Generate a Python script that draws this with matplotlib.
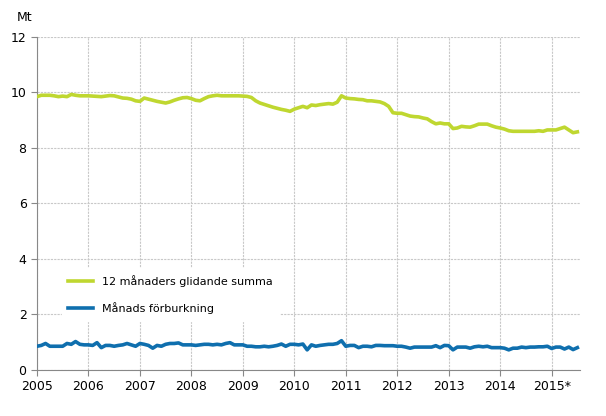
import numpy as np
import matplotlib
matplotlib.use("Agg")
import matplotlib.pyplot as plt

start_year = 2005
rolling_sum = [
 9.85,9.9,9.9,9.9,9.88,9.85,9.87,9.85,9.93,9.9,9.88,9.88,
 9.88,9.87,9.86,9.85,9.87,9.89,9.88,9.84,9.8,9.79,9.76,9.7,
 9.68,9.8,9.76,9.72,9.68,9.65,9.62,9.66,9.72,9.77,9.81,9.82,
 9.78,9.72,9.7,9.78,9.85,9.88,9.9,9.88,9.88,9.88,9.88,9.88,
 9.87,9.86,9.82,9.7,9.62,9.57,9.52,9.47,9.43,9.39,9.36,9.32,
 9.4,9.45,9.5,9.45,9.55,9.53,9.56,9.58,9.6,9.58,9.65,9.88,
 9.8,9.78,9.77,9.75,9.74,9.7,9.7,9.68,9.66,9.6,9.5,9.27,
 9.25,9.25,9.2,9.15,9.13,9.12,9.08,9.05,8.95,8.87,8.9,8.87,
 8.87,8.7,8.72,8.78,8.76,8.75,8.8,8.86,8.86,8.86,8.8,8.75,
 8.72,8.68,8.62,8.6,8.6,8.6,8.6,8.6,8.6,8.62,8.6,8.65,
 8.65,8.65,8.7,8.75,8.65,8.55,8.58]
monthly = [
 0.85,0.88,0.95,0.85,0.85,0.85,0.85,0.95,0.92,1.02,0.92,0.9,
 0.9,0.88,0.98,0.8,0.88,0.88,0.85,0.88,0.9,0.95,0.9,0.85,
 0.95,0.92,0.88,0.78,0.88,0.85,0.92,0.95,0.95,0.97,0.9,0.9,
 0.9,0.88,0.9,0.92,0.92,0.9,0.92,0.9,0.95,0.98,0.9,0.9,
 0.9,0.85,0.85,0.83,0.83,0.85,0.83,0.85,0.88,0.93,0.85,0.92,
 0.92,0.9,0.93,0.72,0.9,0.85,0.88,0.9,0.92,0.92,0.95,1.05,
 0.85,0.88,0.88,0.8,0.85,0.85,0.83,0.88,0.88,0.87,0.87,0.87,
 0.85,0.85,0.82,0.78,0.82,0.82,0.82,0.82,0.82,0.87,0.8,0.88,
 0.87,0.72,0.82,0.82,0.82,0.78,0.83,0.85,0.83,0.85,0.8,0.8,
 0.8,0.78,0.72,0.78,0.78,0.82,0.8,0.82,0.82,0.83,0.83,0.85,
 0.77,0.82,0.82,0.75,0.82,0.73,0.8]
year_labels = ["2005","2006","2007","2008","2009","2010","2011","2012","2013","2014","2015*"]
y_ticks = [0,2,4,6,8,10,12]

x = start_year + np.arange(len(rolling_sum)) / 12.0

fig = plt.figure(figsize=(6.06,4.16), dpi=100)
ax = fig.add_axes([0.061, 0.111, 0.896, 0.80])
ax.plot(x, rolling_sum, color="#bfd730", lw=2.6, label="12 månaders glidande summa", zorder=3)
ax.plot(x, monthly, color="#0f6fae", lw=2.6, label="Månads förburkning", zorder=3)
ax.set_xlim(2005, 2015.55)
ax.set_ylim(0, 12)
ax.set_xticks(np.arange(2005, 2016))
ax.set_xticklabels(year_labels, fontsize=9)
ax.set_yticks(y_ticks)
ax.set_yticklabels([str(v) for v in y_ticks], fontsize=9)
ax.grid(True, color="#c8c8c8", lw=0.8, ls=(0,(2,1)))
ax.set_axisbelow(True)
for s in ["top", "right"]:
    ax.spines[s].set_visible(False)
for s in ["left", "bottom"]:
    ax.spines[s].set_color("#888888")
ax.tick_params(colors="#888888", labelcolor="black", length=4)
fig.text(0.028, 0.95, "Mt", fontsize=9)
leg = ax.legend(loc="lower left", bbox_to_anchor=(0.035, 0.13), frameon=True, fontsize=8,
                handlelength=2.2, labelspacing=1.4, borderpad=0.6)
leg.get_frame().set_edgecolor("white")
leg.get_frame().set_facecolor("white")
leg.get_frame().set_alpha(1)
fig.savefig("out.png", dpi=100)
